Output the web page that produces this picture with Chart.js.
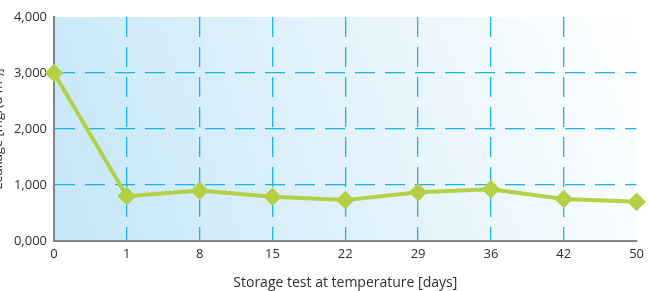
<!DOCTYPE html>
<html>
<head>
<meta charset="utf-8">
<script src="https://cdn.jsdelivr.net/npm/chart.js@4"></script>
<style>
  html, body { margin: 0; padding: 0; background: #fff; overflow: hidden; }
  #wrap { position: absolute; left: -10px; top: 0; width: 659px; height: 291px; }
</style>
</head>
<body>
<div id="wrap"><canvas id="leakChart"></canvas></div>
<script>
// data
const days = ["0", "1", "8", "15", "22", "29", "36", "42", "50"];
const leakage = [3000, 800, 900, 790, 730, 870, 925, 750, 700];
const yTickLabels = ["0,000", "1,000", "2,000", "3,000", "4,000"];

const gridBlue = "#1ab4ec";
const axisGray = "#7d858b";
const textCol = "#2e2e2e";

// diagonal light blue -> white fill of the plot area
const bgPlugin = {
  id: "plotBg",
  beforeDraw(chart) {
    const a = chart.chartArea, c = chart.ctx;
    const g = c.createLinearGradient(a.left, a.bottom, a.right, a.top);
    g.addColorStop(0, "#c4e6f8");
    g.addColorStop(1, "#ffffff");
    c.save();
    c.fillStyle = g;
    c.fillRect(a.left, a.top, a.right - a.left, a.bottom - a.top);
    c.restore();
  }
};

new Chart(document.getElementById("leakChart"), {
  type: "line",
  data: {
    labels: days,
    datasets: [{
      data: leakage,
      borderColor: "#b3d046",
      backgroundColor: "#b3d046",
      borderWidth: 4,
      pointStyle: "rectRot",
      pointRadius: 6.5,
      pointHoverRadius: 6.5,
      tension: 0,
      fill: false
    }]
  },
  options: {
    responsive: true,
    maintainAspectRatio: false,
    animation: false,
    layout: { padding: { top: 17, right: 9, left: 0, bottom: 0 } },
    plugins: { legend: { display: false }, tooltip: { enabled: false } },
    scales: {
      x: {
        offset: false,
        grid: {
          drawTicks: false,
          lineWidth: 1.3,
          color: (ctx) => (ctx.index === 0 || ctx.index === days.length - 1) ? "transparent" : gridBlue
        },
        border: { display: true, color: axisGray, width: 2, dash: [20, 10] },
        ticks: { color: textCol, font: { family: "Open Sans", size: 13 }, padding: 5, maxRotation: 0 },
        title: {
          display: true,
          text: "Storage test at temperature [days]",
          color: textCol,
          font: { family: "Open Sans", size: 14 },
          padding: { top: 4, bottom: 0 }
        },
        afterFit: (s) => { s.height = 50; }
      },
      y: {
        min: 0,
        max: 4000,
        grid: {
          drawTicks: false,
          lineWidth: 1.3,
          color: (ctx) => (ctx.tick && (ctx.tick.value === 0 || ctx.tick.value === 4000)) ? "transparent" : gridBlue
        },
        border: { display: true, color: axisGray, width: 2, dash: [20, 10] },
        ticks: {
          stepSize: 1000,
          color: textCol,
          font: { family: "Open Sans", size: 13 },
          padding: 7,
          callback: (v) => yTickLabels[v / 1000]
        },
        title: {
          display: true,
          text: "Leakage [mg/(d m²)]",
          color: textCol,
          font: { family: "Open Sans", size: 13 },
          padding: { top: 0, bottom: 0 }
        },
        afterFit: (s) => { s.width = 64; }
      }
    }
  },
  plugins: [bgPlugin]
});
</script>
</body>
</html>
